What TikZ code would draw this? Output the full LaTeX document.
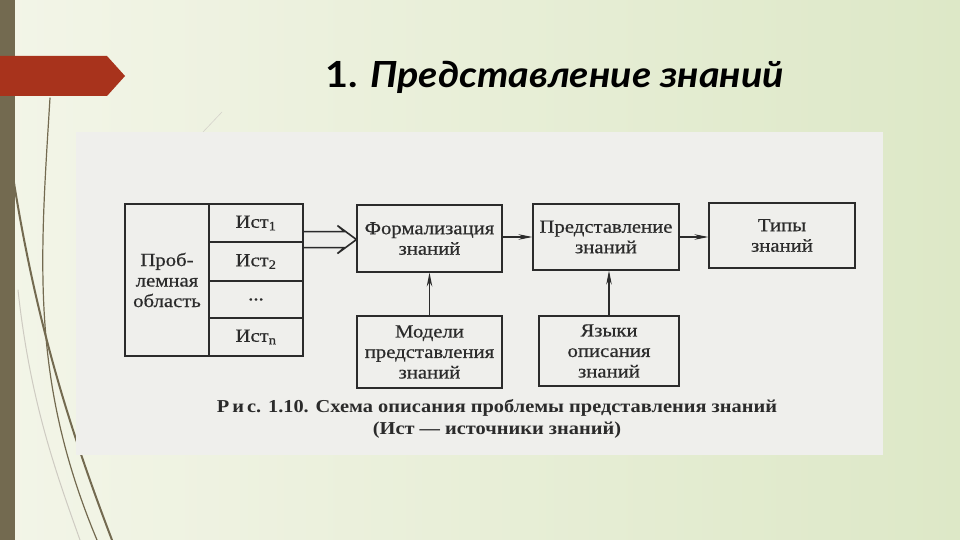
\documentclass[tikz,border=0pt]{standalone}
\usepackage{fontspec}
\setmainfont{Liberation Serif}
\newfontfamily\scanfont[FakeStretch=1.12,FakeBold=0.6]{Liberation Serif}
\newfontfamily\capfont[FakeStretch=1.12]{Liberation Serif}
\newfontfamily\titlefont[FakeStretch=1.1]{Lato}
\usetikzlibrary{arrows.meta}
\definecolor{bgA}{HTML}{F3F5E8}
\definecolor{bgB}{HTML}{DDE8C7}
\definecolor{barbrown}{HTML}{736A50}
\definecolor{bannerred}{HTML}{A8331C}
\definecolor{scanbg}{HTML}{EFEFEC}
\definecolor{ink}{HTML}{2B2B2B}
\tikzset{
  box/.style={draw=ink, line width=1.1pt, inner sep=0pt, align=center, text=ink,
    font=\scanfont\fontsize{18.5}{20.5}\selectfont},
  arr/.style={draw=ink, line width=1.1pt, -{Stealth[length=14pt,width=5.5pt]}},
  deco/.style={draw=barbrown, line cap=round}
}
\begin{document}
\begin{tikzpicture}[x=1pt,y=-1pt]
\useasboundingbox (0,0) rectangle (960,540);
% background
\shade[left color=bgA, right color=bgB] (0,0) rectangle (960,540);
\fill[barbrown] (0,0) rectangle (15,540);
% decorative curves
\draw[deco, line width=1.2pt] (50,98) .. controls (40,260) and (30,380) .. (97,540);
\draw[deco, line width=2pt] (12,170) .. controls (35,320) and (70,430) .. (112,540);
\draw[deco, draw=barbrown!35, line width=1pt] (18,290) .. controls (30,400) and (55,470) .. (80,540);
\draw[draw=barbrown!30, line width=0.6pt] (203,132) -- (222,112);
% banner
\fill[bannerred] (0,56) -- (107,56) -- (125,76) -- (107,96) -- (0,96) -- cycle;
% title
\node[anchor=base west, inner sep=0pt, text=black] (title) at (325,88)
  {\titlefont\fontsize{36}{38}\selectfont\bfseries 1. \itshape Представление знаний};
% scanned page
\fill[scanbg] (76,132) rectangle (883,455);
% diagram
\node[box, minimum width=84pt, minimum height=152pt] (prob) at (167,280) {Проб-\\лемная\\область};
\node[box, minimum width=94pt, minimum height=38pt] (ist1) at (256,223) {Ист\textsubscript{1}};
\node[box, minimum width=94pt, minimum height=39pt] (ist2) at (256,261.5) {Ист\textsubscript{2}};
\node[box, minimum width=94pt, minimum height=37pt] (dots) at (256,299.5) {...};
\node[box, minimum width=94pt, minimum height=38pt] (istn) at (256,337) {Ист\textsubscript{n}};
\node[box, minimum width=145pt, minimum height=67pt] (form) at (429.5,238.5) {Формализация\\знаний};
\node[box, minimum width=146pt, minimum height=66pt] (pred) at (606,237) {Представление\\знаний};
\node[box, minimum width=146pt, minimum height=65pt] (types) at (782,235.5) {Типы\\знаний};
\node[box, minimum width=145pt, minimum height=72pt] (model) at (429.5,352) {Модели\\представления\\знаний};
\node[box, minimum width=140pt, minimum height=70pt] (lang) at (609,351) {Языки\\описания\\знаний};
% hollow double arrow from the sources to formalisation
\coordinate (dstart) at ([yshift=3pt]ist1.south east);
\coordinate (dend) at (dstart -| form.west);
\draw[draw=ink, line width=1.6pt, line join=miter]
  ([yshift=-8pt]dstart) -- ([xshift=-12pt,yshift=-8pt]dend) -- ([xshift=-19pt,yshift=-14pt]dend)
  -- (dend) -- ([xshift=-19pt,yshift=14pt]dend) -- ([xshift=-12pt,yshift=8pt]dend)
  -- ([yshift=8pt]dstart);
% single arrows
\draw[arr] (form.east |- pred.west) -- (pred.west);
\draw[arr] (pred.east) -- (pred.east -| types.west);
\draw[arr] (model.north) -- (model.north |- form.south);
\draw[arr] (lang.north) -- (lang.north |- pred.south);
% caption
\node[align=center, text=ink, font=\capfont\fontsize{18.2}{22}\selectfont\bfseries] (cap) at (497,419)
  {Р\,и\,с. 1.10. Схема описания проблемы представления знаний\\(Ист — источники знаний)};
\end{tikzpicture}
\end{document}
